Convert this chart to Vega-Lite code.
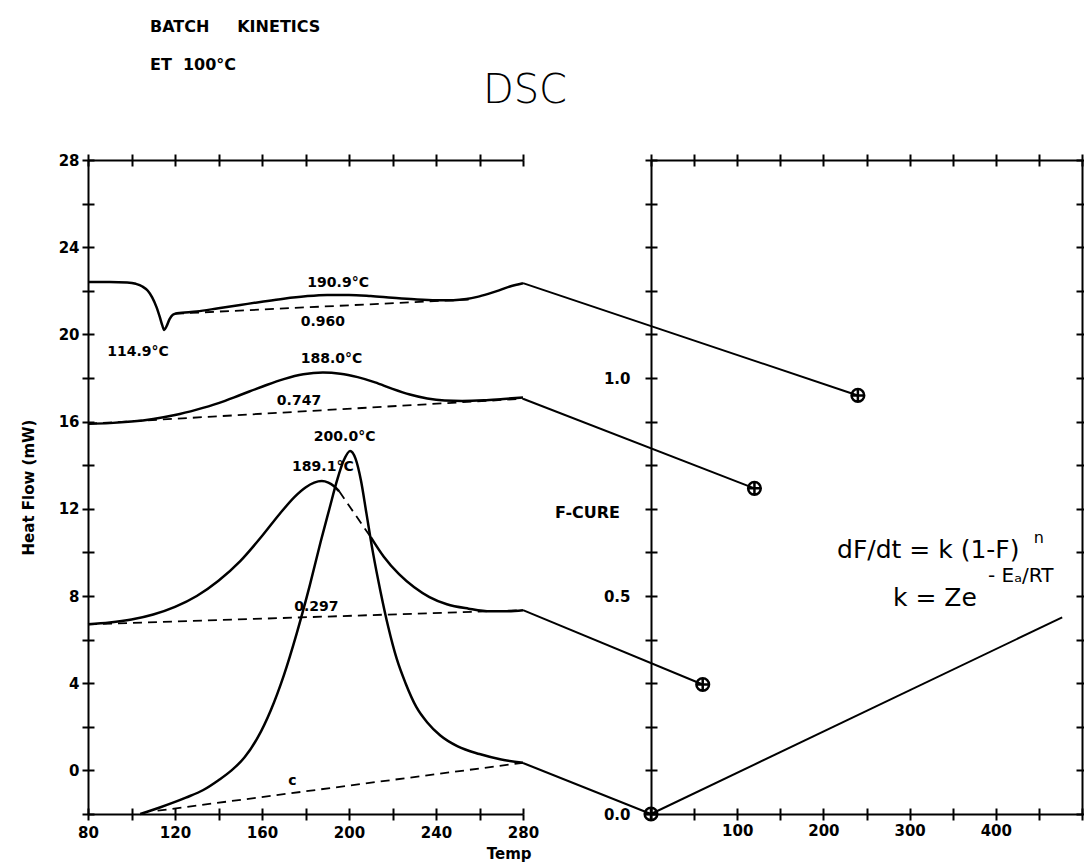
{
  "$schema": "https://vega.github.io/schema/vega-lite/v6.json",
  "width": 994,
  "height": 654,
  "autosize": {"type": "none"},
  "padding": {"left": 88, "top": 160, "right": 2, "bottom": 49},
  "background": "white",
  "config": {
    "view": {"stroke": null},
    "axis": {
      "grid": false,
      "domainColor": "black", "tickColor": "black", "labelColor": "black", "titleColor": "black",
      "domainWidth": 2, "tickWidth": 2,
      "labelFont": "DejaVu Sans", "labelFontWeight": "bold", "labelFontSize": 15,
      "titleFont": "DejaVu Sans", "titleFontWeight": "bold", "titleFontSize": 15,
      "labelOverlap": false, "labelFlush": false
    },
    "text": {"font": "DejaVu Sans", "fontWeight": "bold", "color": "black"}
  },
  "datasets": {
    "dsc": [
      {"curve": "A", "temp": 80, "hf": 22.4}, {"curve": "A", "temp": 90, "hf": 22.4}, {"curve": "A", "temp": 98, "hf": 22.38},
      {"curve": "A", "temp": 102, "hf": 22.32}, {"curve": "A", "temp": 105, "hf": 22.2}, {"curve": "A", "temp": 107.5, "hf": 22.0},
      {"curve": "A", "temp": 109.5, "hf": 21.7}, {"curve": "A", "temp": 111.5, "hf": 21.25}, {"curve": "A", "temp": 113, "hf": 20.8},
      {"curve": "A", "temp": 114.2, "hf": 20.4}, {"curve": "A", "temp": 115, "hf": 20.2}, {"curve": "A", "temp": 116, "hf": 20.35},
      {"curve": "A", "temp": 117.5, "hf": 20.7}, {"curve": "A", "temp": 119, "hf": 20.9}, {"curve": "A", "temp": 121, "hf": 20.97},
      {"curve": "A", "temp": 130, "hf": 21.05}, {"curve": "A", "temp": 140, "hf": 21.2}, {"curve": "A", "temp": 150, "hf": 21.35},
      {"curve": "A", "temp": 160, "hf": 21.5}, {"curve": "A", "temp": 170, "hf": 21.64}, {"curve": "A", "temp": 180, "hf": 21.75},
      {"curve": "A", "temp": 190, "hf": 21.81}, {"curve": "A", "temp": 200, "hf": 21.81}, {"curve": "A", "temp": 210, "hf": 21.76},
      {"curve": "A", "temp": 220, "hf": 21.68}, {"curve": "A", "temp": 230, "hf": 21.61}, {"curve": "A", "temp": 240, "hf": 21.57},
      {"curve": "A", "temp": 248, "hf": 21.57}, {"curve": "A", "temp": 254, "hf": 21.62}, {"curve": "A", "temp": 259, "hf": 21.72},
      {"curve": "A", "temp": 264, "hf": 21.86}, {"curve": "A", "temp": 269, "hf": 22.02}, {"curve": "A", "temp": 274, "hf": 22.2},
      {"curve": "A", "temp": 280, "hf": 22.35},
      {"curve": "B", "temp": 80, "hf": 15.9}, {"curve": "B", "temp": 90, "hf": 15.93}, {"curve": "B", "temp": 100, "hf": 16.0},
      {"curve": "B", "temp": 110, "hf": 16.12}, {"curve": "B", "temp": 120, "hf": 16.3}, {"curve": "B", "temp": 130, "hf": 16.55},
      {"curve": "B", "temp": 140, "hf": 16.85}, {"curve": "B", "temp": 150, "hf": 17.22}, {"curve": "B", "temp": 160, "hf": 17.6},
      {"curve": "B", "temp": 170, "hf": 17.95}, {"curve": "B", "temp": 179, "hf": 18.17}, {"curve": "B", "temp": 188, "hf": 18.25},
      {"curve": "B", "temp": 196, "hf": 18.2}, {"curve": "B", "temp": 204, "hf": 18.04}, {"curve": "B", "temp": 212, "hf": 17.8},
      {"curve": "B", "temp": 220, "hf": 17.5}, {"curve": "B", "temp": 228, "hf": 17.24}, {"curve": "B", "temp": 236, "hf": 17.06},
      {"curve": "B", "temp": 244, "hf": 16.97}, {"curve": "B", "temp": 252, "hf": 16.95}, {"curve": "B", "temp": 262, "hf": 16.98},
      {"curve": "B", "temp": 271, "hf": 17.04}, {"curve": "B", "temp": 280, "hf": 17.1},
      {"curve": "C1", "temp": 80, "hf": 6.7}, {"curve": "C1", "temp": 90, "hf": 6.78}, {"curve": "C1", "temp": 100, "hf": 6.92},
      {"curve": "C1", "temp": 110, "hf": 7.15}, {"curve": "C1", "temp": 120, "hf": 7.5}, {"curve": "C1", "temp": 130, "hf": 8.0},
      {"curve": "C1", "temp": 140, "hf": 8.7}, {"curve": "C1", "temp": 150, "hf": 9.6}, {"curve": "C1", "temp": 160, "hf": 10.75},
      {"curve": "C1", "temp": 168, "hf": 11.75}, {"curve": "C1", "temp": 175, "hf": 12.55}, {"curve": "C1", "temp": 180, "hf": 12.98},
      {"curve": "C1", "temp": 184, "hf": 13.2}, {"curve": "C1", "temp": 187.5, "hf": 13.27}, {"curve": "C1", "temp": 190.5, "hf": 13.2},
      {"curve": "C1", "temp": 193, "hf": 13.05}, {"curve": "C1", "temp": 195.5, "hf": 12.8},
      {"curve": "C2", "temp": 210, "hf": 10.7}, {"curve": "C2", "temp": 216, "hf": 9.8}, {"curve": "C2", "temp": 223, "hf": 9.0},
      {"curve": "C2", "temp": 230, "hf": 8.4}, {"curve": "C2", "temp": 237, "hf": 7.95}, {"curve": "C2", "temp": 245, "hf": 7.62},
      {"curve": "C2", "temp": 255, "hf": 7.42}, {"curve": "C2", "temp": 265, "hf": 7.3}, {"curve": "C2", "temp": 272, "hf": 7.3},
      {"curve": "C2", "temp": 280, "hf": 7.35},
      {"curve": "D", "temp": 104, "hf": -2.0}, {"curve": "D", "temp": 113, "hf": -1.7}, {"curve": "D", "temp": 125, "hf": -1.25},
      {"curve": "D", "temp": 133, "hf": -0.9}, {"curve": "D", "temp": 140, "hf": -0.45}, {"curve": "D", "temp": 146, "hf": 0.0},
      {"curve": "D", "temp": 152, "hf": 0.6}, {"curve": "D", "temp": 158, "hf": 1.5}, {"curve": "D", "temp": 164, "hf": 2.75},
      {"curve": "D", "temp": 170, "hf": 4.35}, {"curve": "D", "temp": 176, "hf": 6.3}, {"curve": "D", "temp": 182, "hf": 8.5},
      {"curve": "D", "temp": 187, "hf": 10.5}, {"curve": "D", "temp": 191, "hf": 12.0}, {"curve": "D", "temp": 194.5, "hf": 13.3},
      {"curve": "D", "temp": 197.5, "hf": 14.2}, {"curve": "D", "temp": 200.5, "hf": 14.65}, {"curve": "D", "temp": 203, "hf": 14.3},
      {"curve": "D", "temp": 205.5, "hf": 13.3}, {"curve": "D", "temp": 208, "hf": 11.8}, {"curve": "D", "temp": 211, "hf": 10.0},
      {"curve": "D", "temp": 214.5, "hf": 8.2}, {"curve": "D", "temp": 218, "hf": 6.6}, {"curve": "D", "temp": 222, "hf": 5.1},
      {"curve": "D", "temp": 226, "hf": 4.0}, {"curve": "D", "temp": 231, "hf": 2.9}, {"curve": "D", "temp": 236, "hf": 2.2},
      {"curve": "D", "temp": 242, "hf": 1.6}, {"curve": "D", "temp": 250, "hf": 1.1}, {"curve": "D", "temp": 260, "hf": 0.75},
      {"curve": "D", "temp": 270, "hf": 0.5}, {"curve": "D", "temp": 280, "hf": 0.35}
    ],
    "base": [
      {"seg": "A", "temp": 120, "hf": 20.95}, {"seg": "A", "temp": 255, "hf": 21.6},
      {"seg": "B", "temp": 80, "hf": 15.9}, {"seg": "B", "temp": 280, "hf": 17.05},
      {"seg": "C", "temp": 80, "hf": 6.7}, {"seg": "C", "temp": 280, "hf": 7.35},
      {"seg": "Cpk", "temp": 195.5, "hf": 12.8}, {"seg": "Cpk", "temp": 210, "hf": 10.7},
      {"seg": "D", "temp": 112, "hf": -1.85}, {"seg": "D", "temp": 280, "hf": 0.35}
    ],
    "notes": [
      {"label": "190.9°C", "temp": 195, "hf": 22.35},
      {"label": "0.960", "temp": 188, "hf": 20.55},
      {"label": "114.9°C", "temp": 103, "hf": 19.2},
      {"label": "188.0°C", "temp": 192, "hf": 18.85},
      {"label": "0.747", "temp": 177, "hf": 16.95},
      {"label": "189.1°C", "temp": 188, "hf": 13.9},
      {"label": "200.0°C", "temp": 198, "hf": 15.3},
      {"label": "0.297", "temp": 185, "hf": 7.5},
      {"label": "c", "temp": 174, "hf": -0.5}
    ],
    "header": [
      {"label": "BATCH\u00a0\u00a0\u00a0\u00a0\u00a0KINETICS", "temp": 108.5, "hf": 33.87},
      {"label": "ET\u00a0\u00a0100°C", "temp": 108.5, "hf": 32.13}
    ],
    "bigtitle": [
      {"label": "DSC", "temp": 280.9, "hf": 30.6}
    ],
    "links": [
      {"link": 1, "time": -148.5, "F": 1.2175}, {"link": 1, "time": 240, "F": 0.96},
      {"link": 2, "time": -148.5, "F": 0.9525}, {"link": 2, "time": 120, "F": 0.747},
      {"link": 3, "time": -148.5, "F": 0.4675}, {"link": 3, "time": 60, "F": 0.297},
      {"link": 4, "time": -148.5, "F": 0.117}, {"link": 4, "time": 0, "F": 0}
    ],
    "fcure": [
      {"time": 0, "F": 0}, {"time": 60, "F": 0.297}, {"time": 120, "F": 0.747}, {"time": 240, "F": 0.96}
    ],
    "model": [
      {"time": 0, "F": 0}, {"time": 477, "F": 0.451}
    ],
    "eq": [
      {"label": "dF/dt = k (1-F)", "time": 215.8, "F": 0.588},
      {"label": "k = Ze", "time": 280.7, "F": 0.476}
    ],
    "eqsup": [
      {"label": "n", "time": 444, "F": 0.622}
    ],
    "eqexp": [
      {"label": "- Eₐ/RT", "time": 391, "F": 0.533}
    ]
  },
  "resolve": {"scale": {"x": "independent", "y": "independent"}},
  "layer": [
    {
      "data": {"name": "dsc"},
      "mark": {"type": "line", "color": "black", "strokeWidth": 2.5, "interpolate": "monotone"},
      "encoding": {
        "x": {"field": "temp", "type": "quantitative",
          "scale": {"domain": [80, 280], "range": [0, 435], "nice": false, "zero": false},
          "axis": {"orient": "bottom", "values": [80, 100, 120, 140, 160, 180, 200, 220, 240, 260, 280],
            "labelExpr": "datum.value % 40 == 0 ? datum.label : ''", "tickSize": 6, "labelPadding": 5,
            "title": "Temp", "titleX": 443, "titleY": 44, "titleAlign": "right", "titleBaseline": "alphabetic"}},
        "y": {"field": "hf", "type": "quantitative",
          "scale": {"domain": [-2, 28], "nice": false, "zero": false},
          "axis": {"orient": "left", "values": [-2, 0, 2, 4, 6, 8, 10, 12, 14, 16, 18, 20, 22, 24, 26, 28],
            "labelExpr": "datum.value >= 0 && datum.value % 4 == 0 ? datum.label : ''", "tickSize": 6, "labelPadding": 3,
            "title": "Heat Flow (mW)", "titleX": -60, "titleY": 327, "titleAngle": -90, "titleAlign": "center", "titleBaseline": "middle"}},
        "detail": {"field": "curve"}
      }
    },
    {
      "data": {"name": "base"},
      "mark": {"type": "line", "color": "black", "strokeWidth": 1.8, "strokeDash": [9, 6]},
      "encoding": {
        "x": {"field": "temp", "type": "quantitative",
          "scale": {"domain": [80, 280], "range": [0, 435], "nice": false, "zero": false},
          "axis": {"orient": "top", "values": [80, 100, 120, 140, 160, 180, 200, 220, 240, 260, 280],
            "labels": false, "tickSize": 6, "title": null}},
        "y": {"field": "hf", "type": "quantitative",
          "scale": {"domain": [-2, 28], "nice": false, "zero": false},
          "axis": {"orient": "left", "values": [-2, 0, 2, 4, 6, 8, 10, 12, 14, 16, 18, 20, 22, 24, 26, 28],
            "labels": false, "domain": false, "tickSize": -6, "title": null}},
        "detail": {"field": "seg"}
      }
    },
    {
      "data": {"name": "notes"},
      "mark": {"type": "text", "fontSize": 14, "align": "center", "baseline": "middle"},
      "encoding": {
        "x": {"field": "temp", "type": "quantitative",
          "scale": {"domain": [80, 280], "range": [0, 435], "nice": false, "zero": false},
          "axis": {"orient": "bottom", "values": [80, 100, 120, 140, 160, 180, 200, 220, 240, 260, 280],
            "labels": false, "domain": false, "tickSize": -6, "title": null}},
        "y": {"field": "hf", "type": "quantitative",
          "scale": {"domain": [-2, 28], "nice": false, "zero": false}, "axis": null},
        "text": {"field": "label"}
      }
    },
    {
      "data": {"name": "header"},
      "mark": {"type": "text", "fontSize": 16, "align": "left", "baseline": "alphabetic"},
      "encoding": {
        "x": {"field": "temp", "type": "quantitative",
          "scale": {"domain": [80, 280], "range": [0, 435], "nice": false, "zero": false},
          "axis": {"orient": "top", "values": [80, 100, 120, 140, 160, 180, 200, 220, 240, 260, 280],
            "labels": false, "domain": false, "tickSize": -6, "title": null}},
        "y": {"field": "hf", "type": "quantitative",
          "scale": {"domain": [-2, 28], "nice": false, "zero": false}, "axis": null},
        "text": {"field": "label"}
      }
    },
    {
      "data": {"name": "bigtitle"},
      "mark": {"type": "text", "fontSize": 40, "fontWeight": 200, "align": "center", "baseline": "alphabetic"},
      "encoding": {
        "x": {"field": "temp", "type": "quantitative",
          "scale": {"domain": [80, 280], "range": [0, 435], "nice": false, "zero": false}, "axis": null},
        "y": {"field": "hf", "type": "quantitative",
          "scale": {"domain": [-2, 28], "nice": false, "zero": false}, "axis": null},
        "text": {"field": "label"}
      }
    },
    {
      "data": {"name": "links"},
      "mark": {"type": "line", "color": "black", "strokeWidth": 2},
      "encoding": {
        "x": {"field": "time", "type": "quantitative",
          "scale": {"domain": [0, 500], "range": [563, 994], "nice": false, "zero": false},
          "axis": {"orient": "bottom", "values": [0, 50, 100, 150, 200, 250, 300, 350, 400, 450, 500],
            "labelExpr": "datum.value >= 100 && datum.value <= 400 && datum.value % 100 == 0 ? datum.label : ''",
            "tickSize": 6, "labelPadding": 3, "title": null}},
        "y": {"field": "F", "type": "quantitative",
          "scale": {"domain": [0, 1.5], "nice": false, "zero": false},
          "axis": {"orient": "left", "offset": -563,
            "values": [0, 0.1, 0.2, 0.3, 0.4, 0.5, 0.6, 0.7, 0.8, 0.9, 1.0, 1.1, 1.2, 1.3, 1.4, 1.5],
            "labelExpr": "(datum.value * 10) % 5 == 0 && datum.value < 1.2 ? format(datum.value, '.1f') : ''",
            "tickSize": 6, "labelPadding": 15,
            "title": "F-CURE", "titleAngle": 0, "titleX": -64, "titleY": 352, "titleAlign": "center", "titleBaseline": "middle",
            "titleFontSize": 16}},
        "detail": {"field": "link"}
      }
    },
    {
      "data": {"name": "model"},
      "mark": {"type": "line", "color": "black", "strokeWidth": 2},
      "encoding": {
        "x": {"field": "time", "type": "quantitative",
          "scale": {"domain": [0, 500], "range": [563, 994], "nice": false, "zero": false},
          "axis": {"orient": "top", "values": [0, 50, 100, 150, 200, 250, 300, 350, 400, 450, 500],
            "labels": false, "tickSize": 6, "title": null}},
        "y": {"field": "F", "type": "quantitative",
          "scale": {"domain": [0, 1.5], "nice": false, "zero": false},
          "axis": {"orient": "right",
            "values": [0, 0.1, 0.2, 0.3, 0.4, 0.5, 0.6, 0.7, 0.8, 0.9, 1.0, 1.1, 1.2, 1.3, 1.4, 1.5],
            "labels": false, "tickSize": 6, "title": null}}
      }
    },
    {
      "data": {"name": "fcure"},
      "mark": {"type": "point", "shape": "M-1,0A1,1,0,1,1,1,0A1,1,0,1,1,-1,0ZM-1,0L1,0M0,-1L0,1", "size": 160,
        "filled": false, "color": "black", "strokeWidth": 2.5, "opacity": 1},
      "encoding": {
        "x": {"field": "time", "type": "quantitative",
          "scale": {"domain": [0, 500], "range": [563, 994], "nice": false, "zero": false},
          "axis": {"orient": "bottom", "values": [0, 50, 100, 150, 200, 250, 300, 350, 400, 450, 500],
            "labels": false, "domain": false, "tickSize": -6, "title": null}},
        "y": {"field": "F", "type": "quantitative",
          "scale": {"domain": [0, 1.5], "nice": false, "zero": false},
          "axis": {"orient": "left", "offset": -563,
            "values": [0, 0.1, 0.2, 0.3, 0.4, 0.5, 0.6, 0.7, 0.8, 0.9, 1.0, 1.1, 1.2, 1.3, 1.4, 1.5],
            "labels": false, "domain": false, "tickSize": -6, "title": null}}
      }
    },
    {
      "data": {"name": "eq"},
      "mark": {"type": "text", "fontSize": 25, "fontWeight": "normal", "align": "left", "baseline": "alphabetic"},
      "encoding": {
        "x": {"field": "time", "type": "quantitative",
          "scale": {"domain": [0, 500], "range": [563, 994], "nice": false, "zero": false},
          "axis": {"orient": "top", "values": [0, 50, 100, 150, 200, 250, 300, 350, 400, 450, 500],
            "labels": false, "domain": false, "tickSize": -6, "title": null}},
        "y": {"field": "F", "type": "quantitative",
          "scale": {"domain": [0, 1.5], "nice": false, "zero": false},
          "axis": {"orient": "right",
            "values": [0, 0.1, 0.2, 0.3, 0.4, 0.5, 0.6, 0.7, 0.8, 0.9, 1.0, 1.1, 1.2, 1.3, 1.4, 1.5],
            "labels": false, "domain": false, "tickSize": -6, "title": null}},
        "text": {"field": "label"}
      }
    },
    {
      "data": {"name": "eqsup"},
      "mark": {"type": "text", "fontSize": 16, "fontWeight": "normal", "align": "left", "baseline": "alphabetic"},
      "encoding": {
        "x": {"field": "time", "type": "quantitative",
          "scale": {"domain": [0, 500], "range": [563, 994], "nice": false, "zero": false}, "axis": null},
        "y": {"field": "F", "type": "quantitative",
          "scale": {"domain": [0, 1.5], "nice": false, "zero": false}, "axis": null},
        "text": {"field": "label"}
      }
    },
    {
      "data": {"name": "eqexp"},
      "mark": {"type": "text", "fontSize": 20, "fontWeight": "normal", "align": "left", "baseline": "alphabetic"},
      "encoding": {
        "x": {"field": "time", "type": "quantitative",
          "scale": {"domain": [0, 500], "range": [563, 994], "nice": false, "zero": false}, "axis": null},
        "y": {"field": "F", "type": "quantitative",
          "scale": {"domain": [0, 1.5], "nice": false, "zero": false}, "axis": null},
        "text": {"field": "label"}
      }
    }
  ]
}
